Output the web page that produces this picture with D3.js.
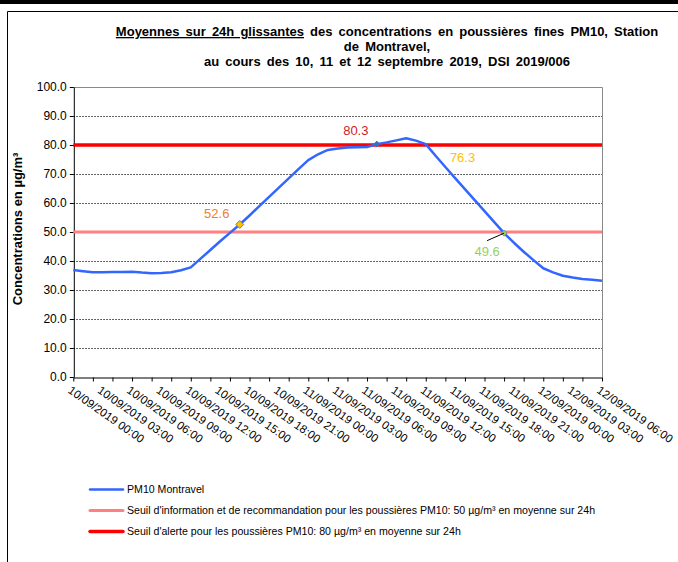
<!DOCTYPE html>
<html>
<head>
<meta charset="utf-8">
<script src="https://cdn.jsdelivr.net/npm/d3@7"></script>
<style>
  body { margin: 0; background: #fff; }
  text { font-family: "Liberation Sans", Arial, sans-serif; }
</style>
</head>
<body>
<div id="chart"></div>
<script>
// hourly 24h rolling means, from 10/09/2019 00:00 to 12/09/2019 06:00
var hours = d3.range(0, 55);
var pm10 = [36.9, 36.5, 36.1, 36.1, 36.2, 36.2, 36.3, 36.0, 35.8, 35.9,
            36.1, 36.8, 37.8, 40.8, 43.8, 46.8, 49.7, 52.6, 55.7, 58.9,
            62.1, 65.3, 68.5, 71.7, 74.8, 76.8, 78.3, 78.8, 79.1, 79.2,
            79.3, 80.3, 80.9, 81.6, 82.3, 81.5, 80.3, 76.3, 72.4, 68.6,
            64.8, 61.0, 57.2, 53.4, 49.6, 46.3, 43.2, 40.3, 37.5, 36.1,
            34.9, 34.3, 33.8, 33.5, 33.2];
var seuilInfo = 50;
var seuilAlerte = 80;

// labels every 3 hours, tick marks every 2 hours
var tickLabels = ["10/09/2019 00:00", "10/09/2019 03:00", "10/09/2019 06:00", "10/09/2019 09:00",
                  "10/09/2019 12:00", "10/09/2019 15:00", "10/09/2019 18:00", "10/09/2019 21:00",
                  "11/09/2019 00:00", "11/09/2019 03:00", "11/09/2019 06:00", "11/09/2019 09:00",
                  "11/09/2019 12:00", "11/09/2019 15:00", "11/09/2019 18:00", "11/09/2019 21:00",
                  "12/09/2019 00:00", "12/09/2019 03:00", "12/09/2019 06:00"];
var yTicks = [0, 10, 20, 30, 40, 50, 60, 70, 80, 90, 100];

// highlighted points (hour index) and their label colours
var annotHours = [17, 31, 37, 44];
var annotColors = ["#ED7D31", "#D01C1C", "#FFC000", "#9BD05E"];

var width = 678, height = 562;
var plotLeft = 73.3, plotRight = 602, plotTop = 87, plotBottom = 377;

var svg = d3.select("#chart").append("svg")
  .attr("width", width)
  .attr("height", height);

svg.append("rect").attr("width", width).attr("height", height).attr("fill", "#fff");

// black band + frame
svg.append("rect").attr("x", 0).attr("y", 0).attr("width", width).attr("height", 4).attr("fill", "#000");
svg.append("path")
  .attr("d", "M7.5," + height + "V11.5H" + width)
  .attr("fill", "none")
  .attr("stroke", "#000")
  .attr("stroke-width", 1);

var xScale = d3.scaleLinear().domain([0, 54]).range([plotLeft, plotRight]);
var yScale = d3.scaleLinear().domain([0, 100]).range([plotBottom, plotTop]);

// title
var title = svg.append("text")
  .attr("text-anchor", "middle")
  .style("font-size", "13px")
  .style("font-weight", "bold")
  .style("word-spacing", "2.5px");
var l1 = title.append("tspan").attr("x", 387).attr("y", 36);
l1.append("tspan").style("text-decoration", "underline").text("Moyennes sur 24h glissantes");
l1.append("tspan").text(" des concentrations en poussières fines PM10, Station");
title.append("tspan").attr("x", 387).attr("y", 51).text("de Montravel,");
title.append("tspan").attr("x", 387).attr("y", 66).text("au cours des 10, 11 et 12 septembre 2019, DSI 2019/006");

// gridlines
svg.append("g")
  .selectAll("line")
  .data(yTicks.filter(function(d){ return d > 0 && d < 100; }))
  .join("line")
  .attr("x1", plotLeft).attr("x2", plotRight)
  .attr("y1", function(d){ return Math.round(yScale(d)) + 0.5; })
  .attr("y2", function(d){ return Math.round(yScale(d)) + 0.5; })
  .attr("stroke", "#333")
  .attr("stroke-width", 1)
  .attr("stroke-dasharray", "1.5,1.5");

// plot frame top/right
svg.append("path")
  .attr("d", "M" + plotLeft + "," + (plotTop + 0.5) + "H" + (plotRight + 0.5) + "V" + plotBottom)
  .attr("fill", "none")
  .attr("stroke", "#888")
  .attr("stroke-width", 1);

// y axis
svg.append("g")
  .attr("transform", "translate(" + (plotLeft + 0.5) + ",0)")
  .call(d3.axisLeft(yScale)
    .tickValues(yTicks)
    .tickFormat(d3.format(".1f"))
    .tickSize(4)
    .tickSizeOuter(0)
    .tickPadding(3))
  .call(function(g){
    g.select(".domain").attr("stroke", "#000");
    g.selectAll("text").style("font-size", "12px").attr("fill", "#000")
      .style("font-family", "Liberation Sans, Arial, sans-serif");
  });

// x axis (category ticks every 2 hours)
svg.append("g")
  .attr("transform", "translate(0," + (plotBottom + 0.5) + ")")
  .call(d3.axisBottom(xScale)
    .tickValues(d3.range(0, 55, 2))
    .tickFormat("")
    .tickSize(4)
    .tickSizeOuter(0))
  .select(".domain").attr("stroke", "#000");

svg.append("g")
  .selectAll("text")
  .data(tickLabels)
  .join("text")
  .attr("transform", function(d, i){
    return "translate(" + (xScale(i * 3) - 1) + "," + (plotBottom + 8) + ") rotate(35)";
  })
  .attr("dy", "0.75em")
  .style("font-size", "11.5px")
  .text(function(d){ return d; });

// y axis title
svg.append("text")
  .attr("transform", "translate(22," + ((plotTop + plotBottom) / 2 - 3) + ") rotate(-90)")
  .attr("text-anchor", "middle")
  .style("font-size", "13px")
  .style("font-weight", "bold")
  .text("Concentrations en µg/m³");

// thresholds
svg.append("line")
  .attr("x1", plotLeft).attr("x2", plotRight)
  .attr("y1", yScale(seuilInfo)).attr("y2", yScale(seuilInfo))
  .attr("stroke", "#FF8080").attr("stroke-width", 3);
svg.append("line")
  .attr("x1", plotLeft).attr("x2", plotRight)
  .attr("y1", yScale(seuilAlerte)).attr("y2", yScale(seuilAlerte))
  .attr("stroke", "#FF0000").attr("stroke-width", 3.5);

// PM10 line
var line = d3.line()
  .x(function(d, i){ return xScale(hours[i]); })
  .y(function(d){ return yScale(d); });

svg.append("path")
  .datum(pm10)
  .attr("d", line)
  .attr("fill", "none")
  .attr("stroke", "#3366FF")
  .attr("stroke-width", 2.5)
  .attr("stroke-linejoin", "round");

// markers
function diamond(h, r, fill, stroke){
  var cx = xScale(h), cy = yScale(pm10[h]);
  svg.append("path")
    .attr("d", "M" + cx + "," + (cy - r) + "L" + (cx + r) + "," + cy + "L" + cx + "," + (cy + r) + "L" + (cx - r) + "," + cy + "Z")
    .attr("fill", fill)
    .attr("stroke", stroke)
    .attr("stroke-width", 1);
}
diamond(17, 4, "#FFC000", "#5B7FD0");
diamond(31, 3, "#3A6FC0", "#3A6FC0");
diamond(44, 3, "#9BD05E", "#888");

// value labels
var labelOffsets = [[-23, -6.5], [-21, -9], [27, 6], [-17, 23]];
annotHours.forEach(function(h, i){
  svg.append("text")
    .attr("x", xScale(h) + labelOffsets[i][0])
    .attr("y", yScale(pm10[h]) + labelOffsets[i][1])
    .attr("text-anchor", "middle")
    .attr("fill", annotColors[i])
    .style("font-size", "13px")
    .text(d3.format(".1f")(pm10[h]));
});

// leader line for 49.6
svg.append("line")
  .attr("x1", xScale(44) - 17).attr("y1", yScale(pm10[44]) + 7.5)
  .attr("x2", xScale(44)).attr("y2", yScale(pm10[44]))
  .attr("stroke", "#000").attr("stroke-width", 1);

// legend
var legendItems = ["PM10 Montravel",
  "Seuil d'information et de recommandation pour les poussières PM10: 50 µg/m³ en moyenne sur 24h",
  "Seuil d'alerte pour les poussières PM10: 80 µg/m³ en moyenne sur 24h"];
var legendColors = ["#3366FF", "#FF8080", "#FF0000"];
var legendWidths = [2.5, 3, 3.5];

var legend = svg.append("g");
legendItems.forEach(function(d, i){
  var y = 489.5 + i * 21;
  legend.append("line")
    .attr("x1", 90).attr("x2", 123)
    .attr("y1", y).attr("y2", y)
    .attr("stroke", legendColors[i])
    .attr("stroke-width", legendWidths[i])
    .attr("stroke-linecap", "round");
  legend.append("text")
    .attr("x", 127)
    .attr("y", y + 3.5)
    .style("font-size", "10.6px")
    .text(d);
});
</script>
</body>
</html>
